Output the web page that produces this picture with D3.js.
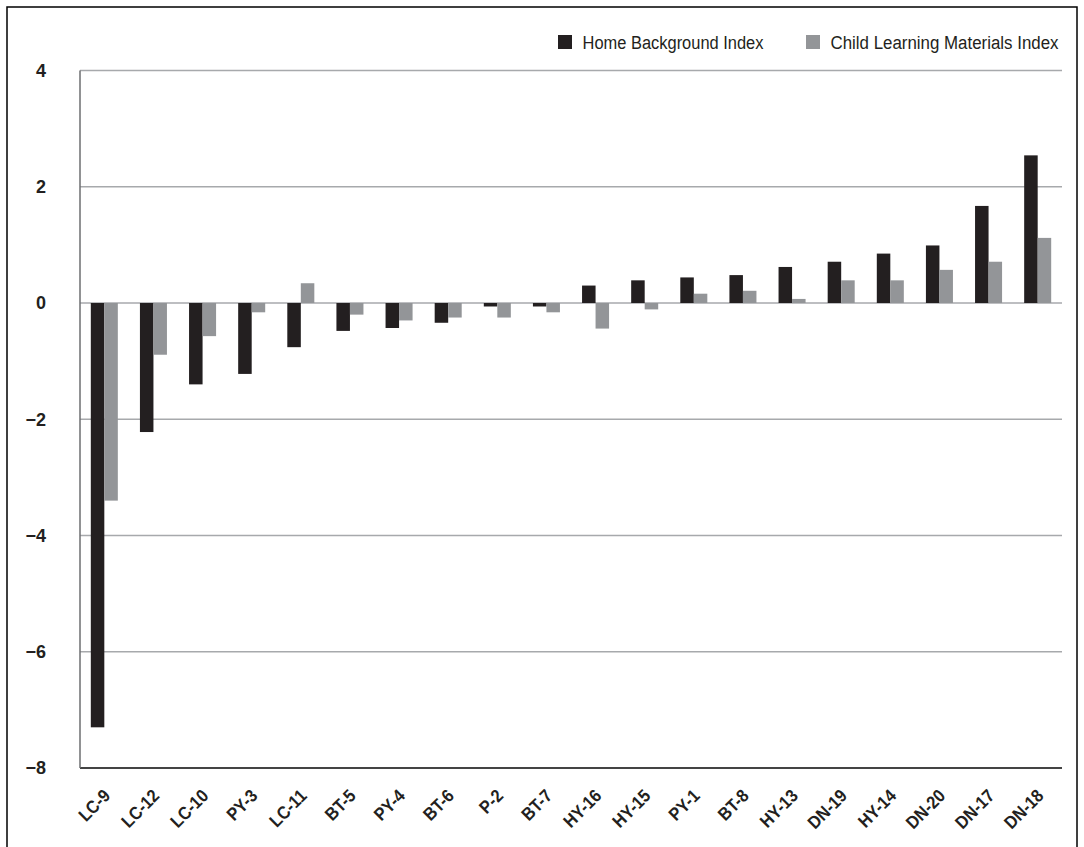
<!DOCTYPE html>
<html><head><meta charset="utf-8">
<script src="https://cdn.jsdelivr.net/npm/d3@7"></script>
<style>body{margin:0;background:#fff}</style>
</head><body>
<svg id="c" width="1084" height="847"></svg>
<script>
const categories = ["LC-9","LC-12","LC-10","PY-3","LC-11","BT-5","PY-4","BT-6","P-2","BT-7","HY-16","HY-15","PY-1","BT-8","HY-13","DN-19","HY-14","DN-20","DN-17","DN-18"];
const homeBackground = [-7.3,-2.22,-1.4,-1.22,-0.76,-0.48,-0.43,-0.34,-0.06,-0.06,0.3,0.39,0.44,0.48,0.62,0.71,0.85,0.99,1.67,2.54];
const childMaterials = [-3.4,-0.89,-0.57,-0.16,0.34,-0.2,-0.3,-0.25,-0.25,-0.16,-0.44,-0.11,0.16,0.21,0.07,0.39,0.39,0.57,0.71,1.12];
const seriesNames = ["Home Background Index","Child Learning Materials Index"];
const yTicks = [4,2,0,-2,-4,-6,-8];

const svg = d3.select("#c");
const W = 1084, H = 847;
const m = {left:80, right:22, top:70.5, bottom:79};
const x0 = d3.scaleBand().domain(categories).range([m.left, W - m.right]).paddingInner(0.45).paddingOuter(0.22);
const x1 = d3.scaleBand().domain(seriesNames).range([0, x0.bandwidth()]);
const y = d3.scaleLinear().domain([-8,4]).range([H - m.bottom, m.top]);
const colors = ["#231f20","#939598"];
const font = "Liberation Sans, Arial, sans-serif";

// frame
svg.append("rect").attr("x",7).attr("y",7).attr("width",1070).attr("height",860)
  .attr("fill","none").attr("stroke","#000").attr("stroke-width",1.5);

// gridlines
svg.append("g").selectAll("line").data(yTicks).join("line")
  .attr("x1",m.left).attr("x2",W-m.right).attr("y1",d=>y(d)).attr("y2",d=>y(d))
  .attr("stroke",d=>d===-8?"#444":"#a7a9ac").attr("stroke-width",d=>d===-8?2:1.3);
// left axis line
svg.append("line").attr("x1",m.left).attr("x2",m.left).attr("y1",y(4)).attr("y2",y(-8))
  .attr("stroke","#6d6e71").attr("stroke-width",1.5);

// y labels
const yAxis = d3.axisLeft(y).tickValues(yTicks).tickSize(0).tickPadding(34).tickFormat(d3.format("d"));
const ya = svg.append("g").attr("transform",`translate(${m.left},0)`).call(yAxis);
ya.select(".domain").remove();
ya.selectAll("text").attr("font-family",font).attr("font-weight","bold")
  .attr("font-size",18).attr("fill","#231f20");

// bars
const data = categories.map((c,i)=>({c, v:[homeBackground[i], childMaterials[i]]}));
const g = svg.append("g");
data.forEach(d=>{
  d.v.forEach((v,j)=>{
    g.append("rect")
      .attr("x", x0(d.c) + x1(seriesNames[j]))
      .attr("width", x1.bandwidth())
      .attr("y", Math.min(y(v), y(0)))
      .attr("height", Math.abs(y(v)-y(0)))
      .attr("fill", colors[j]);
  });
});

// x labels
const xa = svg.append("g").attr("transform",`translate(0,${y(-8)})`)
  .call(d3.axisBottom(x0).tickSize(0).tickPadding(0));
xa.select(".domain").remove();
xa.selectAll("text")
  .attr("font-family",font).attr("font-weight","bold")
  .attr("font-size",18).attr("fill","#231f20")
  .attr("text-anchor","end").attr("dy",null).attr("y",null)
  .attr("transform","translate(7,29) rotate(-45) scale(0.9,1)");

// legend
const leg = svg.append("g");
const legX = [558, 806];
const legW = [181, 228];
seriesNames.forEach((s,j)=>{
  leg.append("rect").attr("x",legX[j]).attr("y",35).attr("width",14).attr("height",14).attr("fill",colors[j]);
  leg.append("text").attr("x",legX[j]+24.5).attr("y",48.5).text(s)
    .attr("textLength",legW[j]).attr("lengthAdjust","spacingAndGlyphs")
    .attr("font-family",font).attr("font-size",18).attr("fill","#231f20");
});
</script>
</body></html>
